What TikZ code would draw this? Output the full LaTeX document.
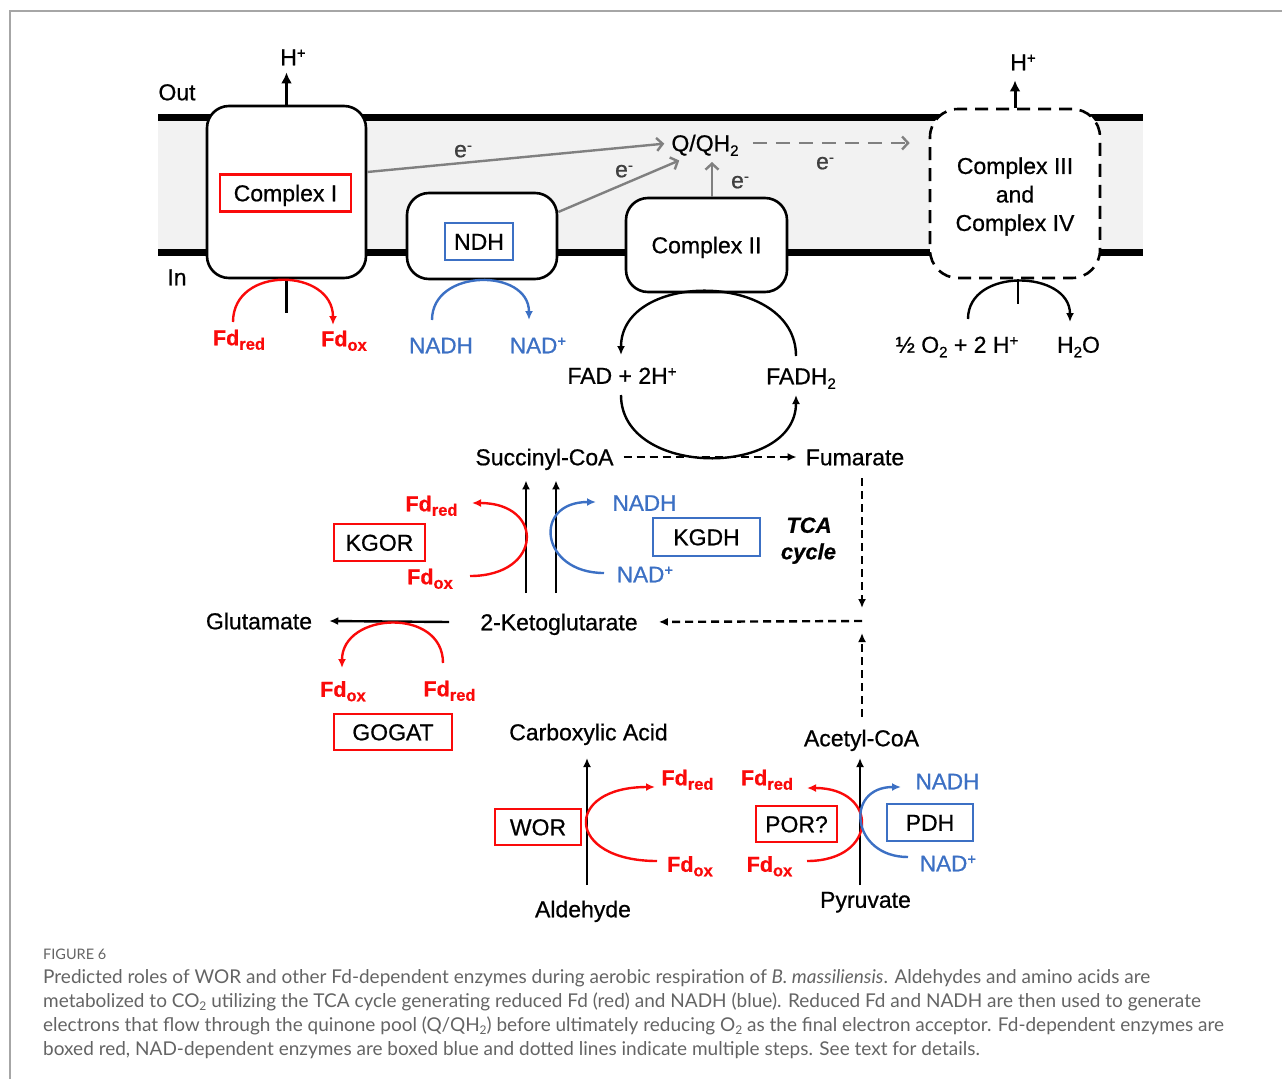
\documentclass[tikz,border=0pt]{standalone}
\usepackage{fontspec}
\setmainfont{Liberation Sans}[FakeBold=0.7]
\newfontfamily\capfont{Lato}
\usetikzlibrary{arrows.meta}

\definecolor{fdred}{RGB}{250,10,10}
\definecolor{nadblue}{RGB}{60,112,196}
\definecolor{capgray}{RGB}{100,100,100}

\newcommand\supx[1]{\raisebox{7pt}{\fontsize{15}{16}\selectfont #1}}
\newcommand\subx[1]{\raisebox{-4.5pt}{\fontsize{15}{16}\selectfont #1}}
\newcommand\fdsub[1]{\raisebox{-4.5pt}{\fontsize{16.5}{18}\selectfont #1}}
\newcommand\capsub[1]{\raisebox{-3pt}{\fontsize{12}{13}\selectfont #1}}

\begin{document}
\begin{tikzpicture}
  [x=1pt,y=1pt,
   every node/.style={font=\fontsize{23}{28}\selectfont},
   txt/.style={text height=16.5pt,text depth=0pt,inner sep=0pt},
   fd/.style={txt,text=fdred,font=\fontsize{21.5}{26}\selectfont\bfseries},
   nad/.style={txt,text=nadblue,font=\fontsize{22.5}{27}\selectfont},
   etxt/.style={txt,text=black!75},
   cplx/.style={draw,fill=white,line width=2.6pt,rounded corners=22pt},
   fdbox/.style={txt,draw=fdred,line width=2.2pt,minimum height=37pt},
   nadbox/.style={txt,draw=nadblue,line width=2.2pt,minimum height=37pt},
   arr/.style={line width=2.4pt,-{Latex[length=9pt,width=8pt]}},
   bigarr/.style={line width=3pt,-{Latex[length=11pt,width=11pt]}},
   darr/.style={arr,dash pattern=on 8pt off 5pt},
   rarr/.style={arr,draw=fdred,-{Latex[length=9pt,width=8pt,fill=fdred]}},
   barr/.style={arr,draw=nadblue,-{Latex[length=9pt,width=8pt,fill=nadblue]}},
   garr/.style={line width=2.4pt,draw=black!50,-{Straight Barb[length=6pt,width=13pt]}},
   captxt/.style={anchor=base west,inner sep=0pt,text=capgray,font=\capfont\fontsize{19}{22}\selectfont}]

  \useasboundingbox (0,0) rectangle (1282,-1079);
  \draw [black!35,line width=1.3pt] (10,-1079) -- (10,-11) -- (1282,-11);

  % membrane
  \fill [black!5] (158,-117) rectangle (1143,-252);
  \draw [line width=7pt] (158,-117) -- (1143,-117);
  \draw [line width=7pt] (158,-252) -- (1143,-252);
  \node [txt] (out) at (177,-92) {Out};
  \node [txt] (in) at (177,-277) {In};

  % complexes
  \node [cplx,minimum width=159pt,minimum height=172pt] (cI) at (286.5,-192) {};
  \node [fdbox,minimum width=131pt] (cIlbl) at (285.5,-193) {Complex I};
  \node [cplx,minimum width=150pt,minimum height=86pt] (ndh) at (482,-236) {};
  \node [nadbox,minimum width=68pt] (ndhlbl) at (479,-241.5) {NDH};
  \node [cplx,txt,minimum width=161pt,minimum height=94pt] (cII) at (706.5,-245) {Complex II};
  \node [cplx,dash pattern=on 13pt off 8pt,rounded corners=28pt,minimum width=170pt,
         minimum height=169pt] (cIII) at (1015,-193.5) {};
  \node [align=center,font=\fontsize{23}{28.5}\selectfont] (cIIItxt) at (1015,-196.5) {Complex III\\and\\Complex IV};

  % protons out
  \node [txt] (hI) at (293,-57) {H\supx{+}};
  \node [txt] (hIII) at (1023,-62) {H\supx{+}};
  \draw [bigarr,shorten >=7pt] (cI.north) -- (cI.north |- hI.south);
  \draw [bigarr,shorten >=10pt] (cIII.north) -- (cIII.north |- hIII.south);

  % quinone pool
  \node [txt] (q) at (705,-143) {Q/QH\subx{2}};
  \coordinate (qin) at (712,-162);
  \draw [garr,shorten >=7pt] ([yshift=20pt]cI.east) -- (q.west);
  \draw [garr] ([yshift=24pt]ndh.east) -- ([shift={(8pt,-9pt)}]q.south west);
  \draw [garr] (cII.north -| qin) -- (qin);
  \draw [garr,dash pattern=on 14pt off 9pt,shorten <=14pt,shorten >=19pt] (q.east) -- (q.east -| cIII.west);
  \node [etxt] (e1) at (463,-149) {e\supx{-}};
  \node [etxt] (e2) at (624,-169) {e\supx{-}};
  \node [etxt] (e3) at (740,-180) {e\supx{-}};
  \node [etxt] (e4) at (825,-161) {e\supx{-}};

  % Complex I
  \coordinate (cIstem) at (288,-313);
  \draw [line width=2.6pt] (cI.south) -- (cI.south |- cIstem);
  \coordinate (fdrI) at (233,-322);
  \coordinate (fdoI) at (333,-325);
  \draw [rarr] (fdrI) to[out=90,in=90,distance=57pt] (fdoI);
  \node [fd] (fdredI) at (239,-337) {Fd\fdsub{red}};
  \node [fd] (fdoxI) at (344,-338) {Fd\fdsub{ox}};

  % NDH
  \coordinate (nadhN) at (432,-320);
  \coordinate (nadN) at (529,-320);
  \draw [barr] (nadhN) to[out=90,in=90,distance=52pt] (nadN);
  \node [nad] (nadhI) at (441,-345) {NADH};
  \node [nad] (nadI) at (538,-345) {NAD\supx{+}};

  % Complex II
  \coordinate (fadhT) at (796,-356);
  \coordinate (fadT) at (621,-355);
  \coordinate (fadB) at (621,-395);
  \coordinate (fadhB) at (796,-395);
  \draw [arr] (fadhT) to[out=90,in=90,distance=85pt] (fadT);
  \draw [arr] (fadB) to[out=-90,in=-90,distance=83pt] (fadhB);
  \node [txt] (fad) at (622,-375.5) {FAD + 2H\supx{+}};
  \node [txt] (fadh) at (801,-376) {FADH\subx{2}};

  % Complex III and IV
  \coordinate (cIIIstem) at (1018,-304);
  \draw [line width=2.6pt] (cIII.south -| cIIIstem) -- (cIIIstem);
  \coordinate (oxy) at (968,-319);
  \coordinate (wat) at (1070,-322);
  \draw [arr] (oxy) to[out=90,in=90,distance=52pt] (wat);
  \node [txt] (ox) at (957,-344.5) {\char"00BD{} O\subx{2} + 2 H\supx{+}};
  \node [txt] (h2o) at (1078.5,-344.5) {H\subx{2}O};

  % TCA cycle
  \node [txt] (succ) at (544.5,-457) {Succinyl-CoA};
  \node [txt] (fum) at (855,-457) {Fumarate};
  \node [txt] (kg) at (559,-622) {2-Ketoglutarate};
  \node [txt] (glu) at (259,-621) {Glutamate};
  \node [txt] (acet) at (861.5,-738) {Acetyl-CoA};
  \node [txt] (carb) at (588.5,-732) {Carboxylic Acid};
  \node [txt] (ald) at (583,-909) {Aldehyde};
  \node [txt] (pyr) at (865.5,-899.5) {Pyruvate};
  \node [txt,font=\fontsize{22}{26}\selectfont\bfseries\itshape] (tca) at (809,-524.5) {TCA};
  \node [txt,font=\fontsize{22}{26}\selectfont\bfseries\itshape] (cyc) at (808.5,-551) {cycle};

  \coordinate (jn) at (862,-621);
  \draw [darr,shorten <=10pt,shorten >=9pt] (succ.east) -- (fum.west);
  \draw [darr,shorten <=13pt] (fum.south -| jn) -- ([yshift=13pt]jn);
  \draw [darr,shorten >=21pt] (jn) -- (kg.east);
  \draw [darr,shorten <=13pt] (acet.north -| jn) -- ([yshift=-12pt]jn);

  % 2-ketoglutarate to succinyl-CoA
  \coordinate (ka) at (526,-593);
  \coordinate (kb) at (556,-593);
  \draw [arr,shorten >=15pt] (ka) -- (ka |- succ.south);
  \draw [arr,shorten >=15pt] (kb) -- (kb |- succ.south);
  \node [fdbox,minimum width=91pt] (kgor) at (379.5,-542.5) {KGOR};
  \node [nadbox,minimum width=107pt,minimum height=38pt] (kgdh) at (706.5,-537) {KGDH};
  \coordinate (kgorA) at (470,-576);
  \coordinate (kgorB) at (472,-503);
  \draw [rarr] (kgorA) to[out=0,in=0,distance=73pt] (kgorB);
  \node [fd] (fdredK) at (431.5,-503) {Fd\fdsub{red}};
  \node [fd] (fdoxK) at (430,-576) {Fd\fdsub{ox}};
  \coordinate (kgdhA) at (604,-573);
  \coordinate (kgdhB) at (596,-502);
  \draw [barr] (kgdhA) to[out=180,in=180,distance=64pt] (kgdhB);
  \node [nad] (nadhK) at (644.5,-502.5) {NADH};
  \node [nad] (nadK) at (645,-574) {NAD\supx{+}};

  % glutamate
  \draw [arr] ([xshift=-31pt]kg.west) -- ([xshift=17pt]glu.east);
  \node [fdbox,minimum width=118pt,minimum height=36pt] (gogat) at (393,-732) {GOGAT};
  \coordinate (gogA) at (443,-663);
  \coordinate (gogB) at (342,-668);
  \draw [rarr] (gogA) to[out=90,in=90,distance=56pt] (gogB);
  \node [fd] (fdoxG) at (343,-688.5) {Fd\fdsub{ox}};
  \node [fd] (fdredG) at (449.5,-688) {Fd\fdsub{red}};

  % aldehyde
  \coordinate (worA) at (587,-885);
  \coordinate (worB) at (587,-758);
  \draw [arr] (worA) -- (worB);
  \node [fdbox,minimum width=86pt,minimum height=36pt] (wor) at (538,-827) {WOR};
  \coordinate (wfdA) at (657,-861);
  \coordinate (wfdB) at (655,-787);
  \draw [rarr] (wfdA) to[out=180,in=180,distance=92pt] (wfdB);
  \node [fd] (fdredW) at (687.5,-777) {Fd\fdsub{red}};
  \node [fd] (fdoxW) at (690,-863.5) {Fd\fdsub{ox}};

  % pyruvate
  \coordinate (pyrA) at (860,-885);
  \coordinate (pyrB) at (860,-758);
  \draw [arr] (pyrA) -- (pyrB);
  \node [fdbox,minimum width=81pt,minimum height=36pt] (por) at (796.5,-824) {POR?};
  \node [nadbox,minimum width=86pt] (pdh) at (930,-822.5) {PDH};
  \coordinate (pfdA) at (807,-861);
  \coordinate (pfdB) at (807,-788);
  \draw [rarr] (pfdA) to[out=0,in=0,distance=72pt] (pfdB);
  \node [fd] (fdredP) at (767,-777) {Fd\fdsub{red}};
  \node [fd] (fdoxP) at (769.5,-863.5) {Fd\fdsub{ox}};
  \coordinate (pnA) at (908,-857);
  \coordinate (pnB) at (901,-787);
  \draw [barr] (pnA) to[out=180,in=180,distance=57pt] (pnB);
  \node [nad] (nadhP) at (947.5,-781) {NADH};
  \node [nad] (nadP) at (948,-863) {NAD\supx{+}};

  % caption
  \node [captxt,font=\capfont\fontsize{14.5}{16}\selectfont] (fig) at (43,-959) {FIGURE 6};
  \node [captxt] (cap1) at (43,-983) {Predicted roles of WOR and other Fd-dependent enzymes during aerobic respiration of \textit{B. massiliensis}. Aldehydes and amino acids are};
  \node [captxt] (cap2) at (43,-1007) {metabolized to CO\capsub{2} utilizing the TCA cycle generating reduced Fd (red) and NADH (blue). Reduced Fd and NADH are then used to generate};
  \node [captxt] (cap3) at (43,-1031) {electrons that flow through the quinone pool (Q/QH\capsub{2}) before ultimately reducing O\capsub{2} as the final electron acceptor. Fd-dependent enzymes are};
  \node [captxt] (cap4) at (43,-1055) {boxed red, NAD-dependent enzymes are boxed blue and dotted lines indicate multiple steps. See text for details.};
\end{tikzpicture}
\end{document}
